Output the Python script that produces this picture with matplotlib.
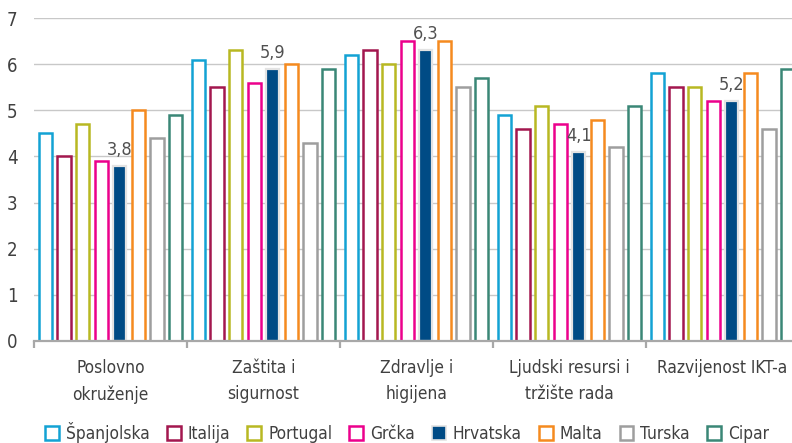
import matplotlib
matplotlib.use("Agg")
import matplotlib.pyplot as plt
from matplotlib import font_manager as fm
from matplotlib.patches import Patch
import numpy as np

# pick a condensed sans face if one is installed, else Roboto
family = 'Roboto'
stretch = 'normal'
condensed = False
for f in fm.fontManager.ttflist:
    fn = f.fname.lower()
    if (('condensed' in fn and 'semicondensed' not in fn and 'extracondensed' not in fn) or 'narrow' in fn) \
            and f.style == 'normal' and f.weight in (400, 'normal', 'regular') \
            and 'mono' not in fn and 'serif' not in f.name.lower():
        family = f.name
        stretch = f.stretch
        condensed = True
        break

plt.rcParams['font.family'] = [family, 'DejaVu Sans']
plt.rcParams['font.stretch'] = stretch
sz = 12.4 if condensed else 11.5

categories = ["Poslovno\nokruženje", "Zaštita i\nsigurnost", "Zdravlje i\nhigijena",
              "Ljudski resursi i\ntržište rada", "Razvijenost IKT-a"]
series_names = ["Španjolska", "Italija", "Portugal", "Grčka", "Hrvatska", "Malta", "Turska", "Cipar"]
colors = ["#13a2d4", "#a3174e", "#b8b822", "#ec008c", "#004b85", "#f58a1f", "#9e9e9e", "#3a8776"]

spanjolska = [4.5, 6.1, 6.2, 4.9, 5.8]
italija = [4.0, 5.5, 6.3, 4.6, 5.5]
portugal = [4.7, 6.3, 6.0, 5.1, 5.5]
grcka = [3.9, 5.6, 6.5, 4.7, 5.2]
hrvatska = [3.8, 5.9, 6.3, 4.1, 5.2]
malta = [5.0, 6.0, 6.5, 4.8, 5.8]
turska = [4.4, 4.3, 5.5, 4.2, 4.6]
cipar = [4.9, 5.9, 5.7, 5.1, 5.9]
hrvatska_labels = ["3,8", "5,9", "6,3", "4,1", "5,2"]

values = [spanjolska, italija, portugal, grcka, hrvatska, malta, turska, cipar]

fig = plt.figure(figsize=(7.92, 4.43), dpi=100)
ax = fig.add_axes([34/792, 102/443, (799-34)/792, (341-18)/443])

x = np.arange(len(categories))
pitch = 0.121
width = 0.088
text_col = "#404040"

for k, (name, vals, col) in enumerate(zip(series_names, values, colors)):
    pos = x + (k - 3.5) * pitch
    if name == "Hrvatska":
        ax.bar(pos, vals, width, facecolor=col, edgecolor="#e3e3e3", linewidth=1.6, zorder=3)
        for px_, v, lab in zip(pos, vals, hrvatska_labels):
            ax.text(px_, v + 0.15, lab, ha="center", va="bottom", fontsize=sz + 0.6, color="#505050", zorder=4)
    else:
        ax.bar(pos, vals, width, facecolor="white", edgecolor=col, linewidth=1.8, zorder=3)

ax.set_xlim(-0.5, len(categories) - 0.5)
ax.set_ylim(0, 7)
ax.set_yticks(range(0, 8))
ax.yaxis.grid(True, color="#c8c8c8", linewidth=1.0, zorder=0)
ax.set_axisbelow(True)
for s in ["top", "right", "left"]:
    ax.spines[s].set_visible(False)
ax.spines["bottom"].set_color("#a8a8a8")
ax.spines["bottom"].set_linewidth(1.6)
ax.spines["bottom"].set_zorder(5)

ax.set_xticks(x)
ax.set_xticklabels(categories, fontsize=sz, color=text_col, linespacing=1.55)
ax.tick_params(axis="x", which="major", length=0, pad=13)
ax.set_xticks(np.arange(-0.5, len(categories), 1), minor=True)
ax.tick_params(axis="x", which="minor", length=5, width=1.6, color="#a8a8a8")
ax.tick_params(axis="y", length=0, labelsize=sz + 1, labelcolor=text_col, pad=12)

handles = []
for name, col in zip(series_names, colors):
    if name == "Hrvatska":
        handles.append(Patch(facecolor=col, edgecolor="#e3e3e3", linewidth=1.2, label=name))
    else:
        handles.append(Patch(facecolor="white", edgecolor=col, linewidth=1.8, label=name))
leg = fig.legend(handles=handles, loc="lower center", bbox_to_anchor=(0.514, -0.035), ncol=8,
                 frameon=False, fontsize=sz, handlelength=0.8, handleheight=0.8,
                 handletextpad=0.4, columnspacing=1.0)
for t in leg.get_texts():
    t.set_color(text_col)

fig.savefig("out.png", dpi=100)
